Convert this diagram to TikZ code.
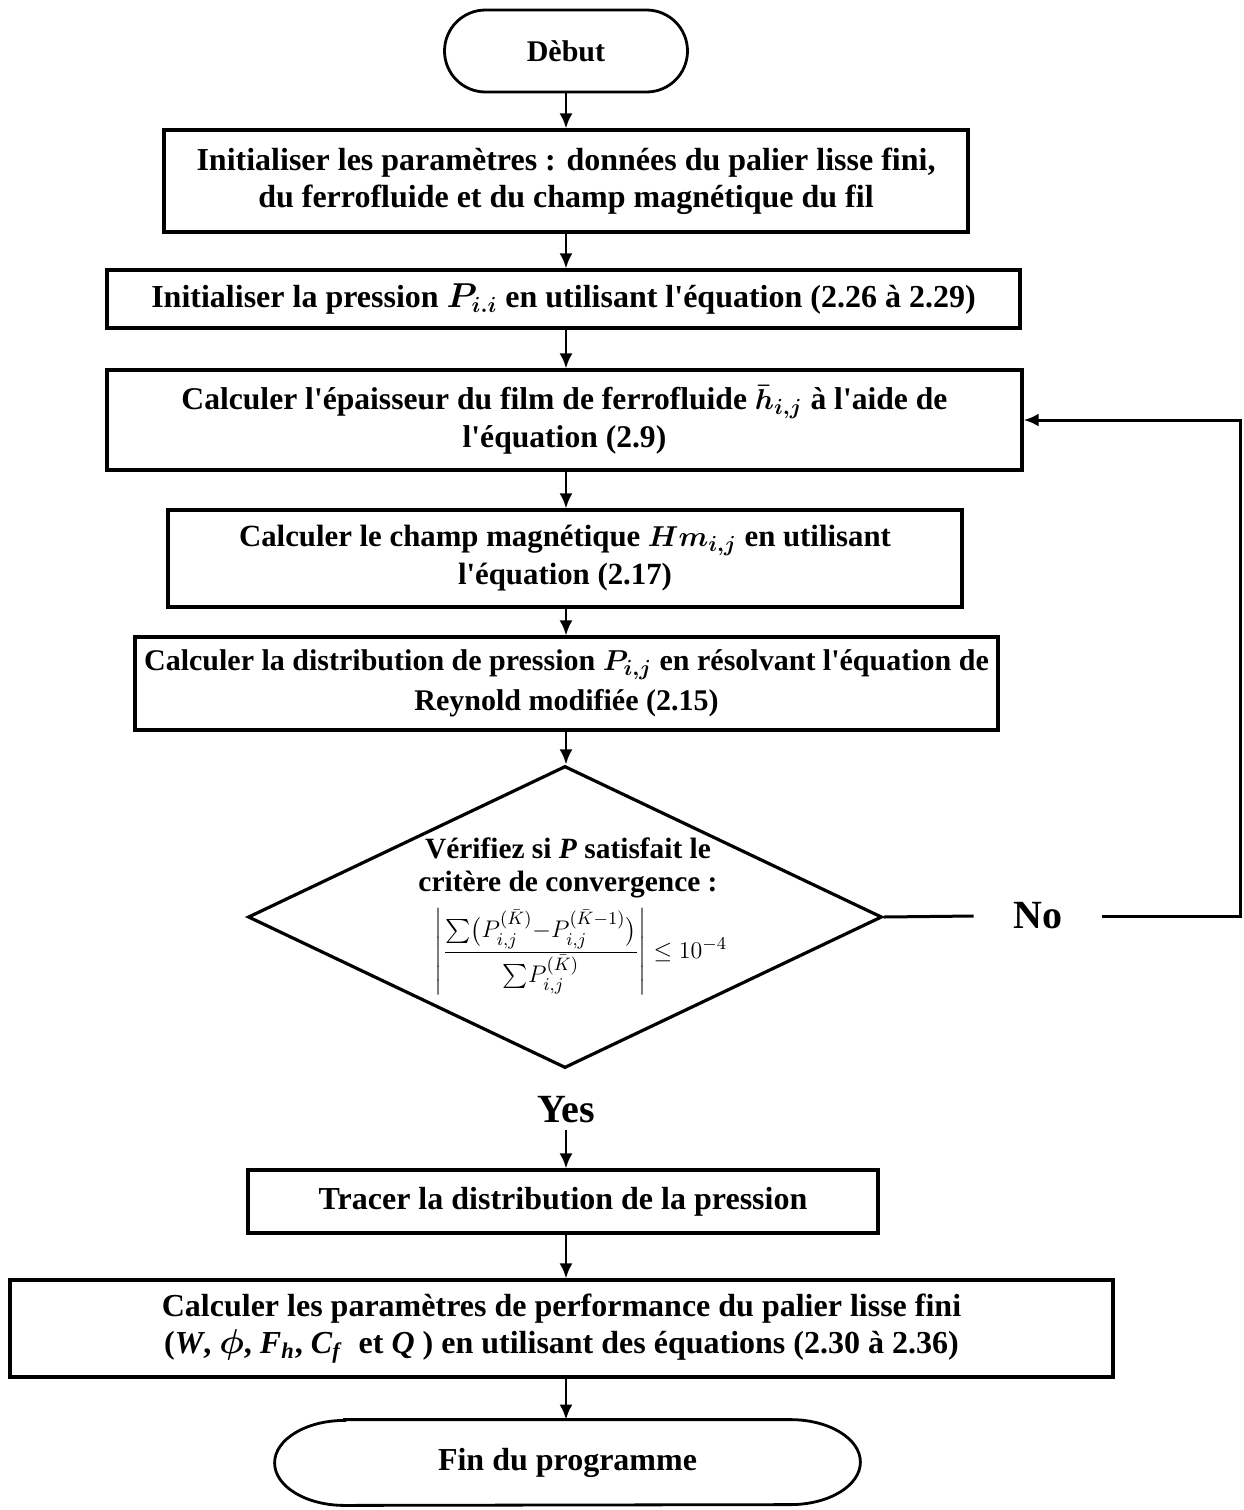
\documentclass[tikz,border=0pt]{standalone}
\usepackage{amsmath}
\usepackage{fontspec}
\setmainfont{Liberation Serif}
\usetikzlibrary{shapes.misc,shapes.geometric,arrows.meta}
\newcommand{\ap}{\textquotesingle}
\begin{document}
\begin{tikzpicture}[x=0.5pt,y=-0.5pt,
  box/.style={draw,line width=1.6pt,align=center,inner sep=0pt,font=\bfseries\fontsize{16}{18}\selectfont},
  txt/.style={align=center,inner sep=0pt},
  term/.style={draw,line width=1.4pt,rounded rectangle,inner sep=0pt,font=\bfseries\fontsize{15}{17}\selectfont},
  arr/.style={line width=1.3pt,-{Latex[length=7.5pt,width=6.5pt]}},
  fb/.style={line width=1.5pt},
  lab/.style={font=\bfseries\fontsize{20}{22}\selectfont,inner xsep=0pt,inner ysep=3pt}
]
\useasboundingbox (0,0) rectangle (1243,1510);

\node[term,minimum width=121.5pt,minimum height=41pt] (deb) at (566,51) {Dèbut};

\node[box,minimum width=402pt,minimum height=51pt,font=\bfseries\fontsize{16}{18.5}\selectfont] (b1) at (566,181)
  {Initialiser les paramètres : données du palier lisse fini,\\ du ferrofluide et du champ magnétique du fil};

\node[box,minimum width=456.5pt,minimum height=29pt] (b2) at (563.5,299)
  {Initialiser la pression {\boldmath$P_{i.i}$} en utilisant l\ap équation (2.26 à 2.29)};

\node[box,minimum width=457.5pt,minimum height=50pt,font=\bfseries\fontsize{15.8}{19}\selectfont] (b3) at (564.5,420)
  {Calculer l\ap épaisseur du film de ferrofluide {\boldmath$\bar{h}_{i,j}$} à l\ap aide de\\ l\ap équation (2.9)};

\node[box,minimum width=397pt,minimum height=48.5pt,font=\bfseries\fontsize{15.4}{19}\selectfont] (b4) at (565,558.5)
  {Calculer le champ magnétique {\boldmath$Hm_{i,j}$} en utilisant\\ l\ap équation (2.17)};

\node[box,minimum width=431.5pt,minimum height=46.5pt,font=\bfseries\fontsize{15}{20}\selectfont] (b5) at (566.5,683.5)
  {Calculer la distribution de pression {\boldmath$P_{i,j}$} en résolvant l\ap équation de\\ Reynold modifiée (2.15)};

\node[draw,diamond,line width=1.6pt,minimum width=317pt,minimum height=151pt,inner sep=0pt] (dec) at (565,917) {};
\node[txt,font=\bfseries\fontsize{14.7}{16.5}\selectfont] (dtx) at (568,868)
  {Vérifiez si \textit{P} satisfait le\\ critère de convergence :};
\node[txt,font=\fontsize{13}{15}\selectfont] (dfx) at (581,952)
  {$\left|\dfrac{{\textstyle\sum}\bigl(P_{i,j}^{(\bar{K})}{-}P_{i,j}^{(\bar{K}-1)}\bigr)}{{\textstyle\sum}P_{i,j}^{(\bar{K})}}\right|\le 10^{-4}$};

\node[lab,minimum width=64pt] (no) at (1038,916) {No};
\coordinate (c1) at (1240,916);
\coordinate (c2) at (1240,420);

\node[lab] (yes) at (566,1110) {Yes};

\node[box,minimum width=315pt,minimum height=31.5pt] (b6) at (563,1201.5)
  {Tracer la distribution de la pression};

\node[box,minimum width=551.5pt,minimum height=48.5pt,font=\bfseries\fontsize{16}{18.5}\selectfont] (b7) at (561.5,1328.5)
  {Calculer les paramètres de performance du palier lisse fini\\
   (\textit{W}, {\boldmath$\phi$}, \textit{F}\textsubscript{\textit{h}}, \textit{C}\textsubscript{\textit{f}}\ \ et \textit{Q} ) en utilisant des équations (2.30 à 2.36)};

\node[minimum width=292.5pt,minimum height=42.5pt,inner sep=0pt,font=\bfseries\fontsize{16}{18}\selectfont] (fin) at (567.5,1462.5) {Fin du programme};
\draw[line width=1.4pt] ([xshift=35pt]fin.north west) -- ([xshift=-35pt]fin.north east)
  arc[start angle=90,end angle=-90,x radius=35pt,y radius=21.25pt]
  -- ([xshift=35pt]fin.south west)
  arc[start angle=270,end angle=90,x radius=35pt,y radius=21.25pt] -- cycle;

\draw[arr] (deb.south) -- (deb.south |- b1.north);
\draw[arr] (b1.south -| deb) -- (deb |- b2.north);
\draw[arr] (b2.south -| deb) -- (deb |- b3.north);
\draw[arr] (b3.south -| deb) -- (deb |- b4.north);
\draw[arr] (b4.south -| deb) -- (deb |- b5.north);
\draw[arr] (b5.south -| deb) -- (deb |- dec.north);
\draw[fb] (dec.east) -- (no.west);
\draw[arr,line width=1.5pt] (no.east) -- (c1) -- (c2) -- (b3.east);
\draw[arr] (yes.south) -- (deb |- b6.north);
\draw[arr] (b6.south -| deb) -- (deb |- b7.north);
\draw[arr] (b7.south -| deb) -- (deb |- fin.north);
\end{tikzpicture}
\end{document}
